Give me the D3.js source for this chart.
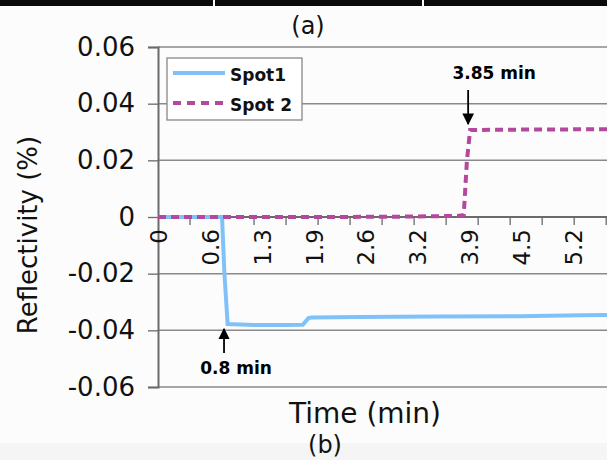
<!DOCTYPE html>
<html>
<head>
<meta charset="utf-8">
<script src="https://cdn.jsdelivr.net/npm/d3@7"></script>
<style>
  body { margin: 0; background: #fcfcfc; }
  svg { display: block; font-family: "DejaVu Sans", Arial, sans-serif; }
</style>
</head>
<body>
<div id="chart"></div>
<script>
// series: time (min) vs reflectivity (%)
var spot1Time = [0, 0.80, 0.83, 0.87, 1.2, 1.6, 1.81, 1.88, 1.92, 2.5, 3.5, 4.5, 5.3, 5.7];
var spot1Val  = [0, 0, -0.02, -0.0378, -0.0381, -0.0381, -0.038, -0.0357, -0.0355, -0.0353, -0.0351, -0.0350, -0.0347, -0.0346];
var spot2Time = [0, 1.0, 2.0, 3.0, 3.75, 3.82, 3.86, 3.9, 4.2, 5.0, 5.7];
var spot2Val  = [0, 0, 0, 0.0001, 0.0004, 0.0007, 0.02, 0.0307, 0.0308, 0.0309, 0.0310];
var seriesNames = ["Spot1", "Spot 2"];
var seriesColors = ["#80c2f8", "#b4489c"];

// x axis labels (category style, rounded in original)
var labelTimes = [0, 0.648, 1.296, 1.944, 2.592, 3.24, 3.888, 4.536, 5.184];
var labelText  = ["0", "0.6", "1.3", "1.9", "2.6", "3.2", "3.9", "4.5", "5.2"];
var minorTicks = [0.4, 0.8, 1.2, 1.6, 2.0, 2.4, 2.8, 3.2, 3.6, 4.0, 4.4, 4.8, 5.2, 5.6];
var yTicks = [0.06, 0.04, 0.02, 0, -0.02, -0.04, -0.06];

var notes = [
  { t: 3.85, v: 0.0307, text: "3.85 min", dir: "down" },
  { t: 0.8, v: -0.0381, text: "0.8 min", dir: "up" }
];

var W = 607, H = 460;
var plotLeft = 158, plotTop = 47, plotBottom = 387;

var svg = d3.select("#chart").append("svg")
    .attr("width", W).attr("height", H);

svg.append("rect").attr("x", 0).attr("y", 443).attr("width", W).attr("height", H - 443)
    .attr("fill", "#f5f5f5");

// top strip of panel (a)
svg.append("rect").attr("x", 0).attr("y", 0).attr("width", W).attr("height", 6).attr("fill", "#0b0b0b");
[213, 422].forEach(function (x) {
  svg.append("rect").attr("x", x).attr("y", 0).attr("width", 2).attr("height", 6).attr("fill", "#fcfcfc");
});
svg.append("text").attr("x", 308).attr("y", 34).attr("text-anchor", "middle")
    .attr("font-size", 24).attr("fill", "#111").text("(a)");

var x = d3.scaleLinear().domain([0, 5.61]).range([plotLeft, W]);
var y = d3.scaleLinear().domain([-0.06, 0.06]).range([plotBottom, plotTop]);

// gridlines
svg.append("g").selectAll("line").data(yTicks.filter(function (d) { return d !== 0; }))
  .enter().append("line")
    .attr("x1", plotLeft).attr("x2", W)
    .attr("y1", function (d) { return y(d); }).attr("y2", function (d) { return y(d); })
    .attr("stroke", "#8a8a8a").attr("stroke-width", 1.5);

// y axis
var yAxis = d3.axisLeft(y).tickValues(yTicks).tickSize(10).tickPadding(13)
    .tickFormat(function (d) { return d === 0 ? "0" : d3.format(".2f")(d).replace("−", "-"); });
var gy = svg.append("g").attr("transform", "translate(" + plotLeft + ",0)").call(yAxis);
gy.select(".domain").attr("stroke", "#6a6a6a").attr("stroke-width", 2);
gy.selectAll(".tick line").attr("stroke", "#6a6a6a").attr("stroke-width", 1.3);
gy.selectAll("text").attr("font-size", 26).attr("fill", "#111")
    .attr("font-family", "'DejaVu Sans', Arial, sans-serif");

// x axis at zero
var gx = svg.append("g").attr("transform", "translate(0," + y(0) + ")");
gx.append("line").attr("x1", plotLeft).attr("x2", W).attr("stroke", "#6a6a6a").attr("stroke-width", 1.8);
gx.selectAll(".minor").data(minorTicks).enter().append("line")
    .attr("x1", function (d) { return x(d); }).attr("x2", function (d) { return x(d); })
    .attr("y1", 0).attr("y2", 8).attr("stroke", "#6a6a6a").attr("stroke-width", 1.3);
gx.selectAll(".lab").data(labelTimes).enter().append("text")
    .attr("transform", function (d) { return "translate(" + (x(d) + 9) + ",12) rotate(-90)"; })
    .attr("text-anchor", "end")
    .attr("font-size", 23).attr("fill", "#111")
    .text(function (d, i) { return labelText[i]; });

// lines
var line = d3.line().x(function (d) { return x(d[0]); }).y(function (d) { return y(d[1]); });
var s1 = spot1Time.map(function (t, i) { return [t, spot1Val[i]]; });
var s2 = spot2Time.map(function (t, i) { return [t, spot2Val[i]]; });

var defs = svg.append("defs");
defs.append("clipPath").attr("id", "clip")
  .append("rect").attr("x", plotLeft).attr("y", plotTop).attr("width", W - plotLeft).attr("height", plotBottom - plotTop);

var plot = svg.append("g").attr("clip-path", "url(#clip)");
plot.append("path").datum(s1).attr("d", line).attr("fill", "none")
    .attr("stroke", seriesColors[0]).attr("stroke-width", 4);
plot.append("path").datum(s2).attr("d", line).attr("fill", "none")
    .attr("stroke", seriesColors[1]).attr("stroke-width", 4).attr("stroke-dasharray", "8,5");

// annotations
defs.append("marker").attr("id", "arr").attr("viewBox", "0 0 10 10")
    .attr("refX", 9).attr("refY", 5).attr("markerWidth", 6.5).attr("markerHeight", 6.5)
    .attr("orient", "auto-start-reverse")
  .append("path").attr("d", "M0,0 L10,5 L0,10 z").attr("fill", "#000");

notes.forEach(function (n) {
  var px = x(n.t) + 2, py = y(n.v);
  if (n.dir === "down") {
    svg.append("line").attr("x1", px).attr("x2", px).attr("y1", py - 40).attr("y2", py - 6)
        .attr("stroke", "#000").attr("stroke-width", 1.8).attr("marker-end", "url(#arr)");
    svg.append("text").attr("x", px + 26).attr("y", py - 51).attr("text-anchor", "middle")
        .attr("font-size", 17).attr("font-weight", "bold").text(n.text);
  } else {
    svg.append("line").attr("x1", px).attr("x2", px).attr("y1", py + 28).attr("y2", py + 4)
        .attr("stroke", "#000").attr("stroke-width", 1.8).attr("marker-end", "url(#arr)");
    svg.append("text").attr("x", px + 12).attr("y", py + 49).attr("text-anchor", "middle")
        .attr("font-size", 17).attr("font-weight", "bold").text(n.text);
  }
});

// legend
var lg = svg.append("g").attr("transform", "translate(167,58)");
lg.append("rect").attr("width", 135).attr("height", 62).attr("fill", "#fff")
    .attr("stroke", "#888").attr("stroke-width", 1.3);
seriesNames.forEach(function (name, i) {
  var yy = 15 + i * 30;
  lg.append("line").attr("x1", 6).attr("x2", 58).attr("y1", yy).attr("y2", yy)
      .attr("stroke", seriesColors[i]).attr("stroke-width", 4)
      .attr("stroke-dasharray", i === 1 ? "8,6" : null);
  lg.append("text").attr("x", 63).attr("y", yy + 8).attr("font-size", 17)
      .attr("font-weight", "bold").attr("fill", "#111").text(name);
});

// axis titles
svg.append("text").attr("transform", "translate(37,235) rotate(-90)")
    .attr("text-anchor", "middle").attr("font-size", 26).attr("fill", "#111").text("Reflectivity (%)");
svg.append("text").attr("x", 365).attr("y", 423).attr("text-anchor", "middle")
    .attr("font-size", 28).attr("fill", "#111").text("Time (min)");
svg.append("text").attr("x", 325).attr("y", 453).attr("text-anchor", "middle")
    .attr("font-size", 24).attr("fill", "#111").text("(b)");
</script>
</body>
</html>
